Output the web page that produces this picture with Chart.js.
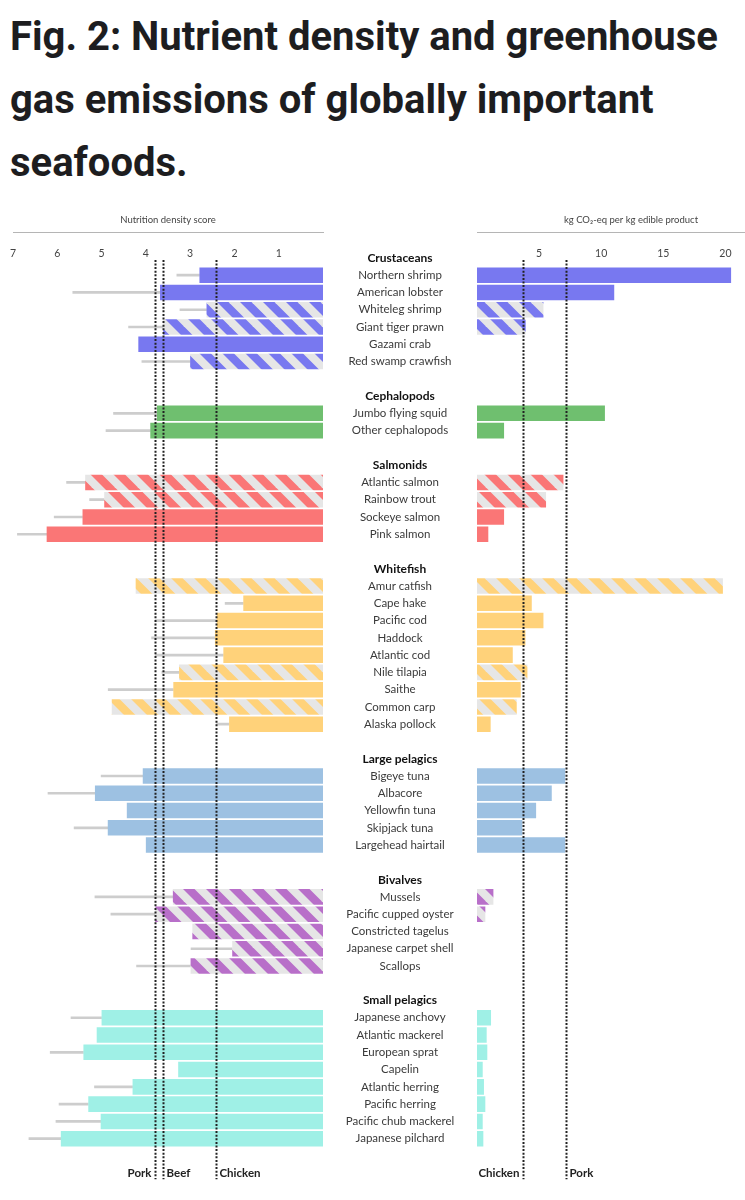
<!DOCTYPE html>
<html>
<head>
<meta charset="utf-8">
<script src="https://cdn.jsdelivr.net/npm/chart.js@4.4.1/dist/chart.umd.min.js"></script>
<style>
  html, body { margin: 0; padding: 0; background: #fff; }
  body { width: 745px; height: 1200px; overflow: hidden; position: relative; }
  h1 {
    position: absolute; left: 10px; top: 5px; margin: 0; width: 730px;
    font-family: Roboto, "Noto Sans", sans-serif; font-weight: 700;
    font-size: 40px; line-height: 63px; color: #1d1d1f; letter-spacing: 0;
  }
  #leftWrap { position: absolute; left: 0; top: 200px; width: 330px; height: 1000px; }
  #rightWrap { position: absolute; left: 325px; top: 200px; width: 460px; height: 1000px; }
</style>
</head>
<body>
<h1>Fig. 2: Nutrient density and greenhouse gas emissions of globally important seafoods.</h1>
<div id="leftWrap"><canvas id="nutrientChart"></canvas></div>
<div id="rightWrap"><canvas id="ghgChart"></canvas></div>
<script>
// ----------------- DATA -----------------
const groupNames = ["Crustaceans", "Cephalopods", "Salmonids", "Whitefish", "Large pelagics", "Bivalves", "Small pelagics"];
const groupSizes = [6, 2, 4, 9, 5, 5, 8];
const groupColors = ["#7878f0", "#6fbf6f", "#fa7676", "#ffd27a", "#9dc1e2", "#b86fc9", "#9ff0e6"];

const speciesNames = [
    "Northern shrimp", "American lobster", "Whiteleg shrimp", "Giant tiger prawn", "Gazami crab", "Red swamp crawfish",
    "Jumbo flying squid", "Other cephalopods",
    "Atlantic salmon", "Rainbow trout", "Sockeye salmon", "Pink salmon",
    "Amur catfish", "Cape hake", "Pacific cod", "Haddock", "Atlantic cod", "Nile tilapia", "Saithe", "Common carp", "Alaska pollock",
    "Bigeye tuna", "Albacore", "Yellowfin tuna", "Skipjack tuna", "Largehead hairtail",
    "Mussels", "Pacific cupped oyster", "Constricted tagelus", "Japanese carpet shell", "Scallops",
    "Japanese anchovy", "Atlantic mackerel", "European sprat", "Capelin", "Atlantic herring", "Pacific herring", "Pacific chub mackerel", "Japanese pilchard"
];

// 1 = farmed (hatched bars)
const farmed = [
    0, 0, 1, 1, 0, 1,
    0, 0,
    1, 1, 0, 0,
    1, 0, 0, 0, 0, 1, 0, 1, 0,
    0, 0, 0, 0, 0,
    1, 1, 1, 1, 1,
    0, 0, 0, 0, 0, 0, 0, 0
];

const nutrientScore = [
    2.79, 3.68, 2.63, 3.61, 4.17, 3.0,
    3.75, 3.9,
    5.37, 4.94, 5.43, 6.24,
    4.23, 1.8, 2.4, 2.44, 2.25, 3.25, 3.38, 4.77, 2.12,
    4.07, 5.15, 4.43, 4.86, 4.0,
    3.39, 3.79, 2.95, 2.05, 2.99,
    5.0, 5.11, 5.41, 3.27, 4.3, 5.3, 5.02, 5.92
];

const nutrientUpper = [
    3.3, 5.65, 3.23, 4.39, null, 4.09,
    4.73, 4.9,
    5.79, 5.27, 6.07, 6.9,
    null, 2.21, 3.79, 3.87, 3.79, 3.64, 4.85, null, 2.4,
    5.01, 6.21, null, 5.62, null,
    5.15, 4.79, null, 2.98, 4.21,
    5.69, null, 6.16, null, 5.16, 5.96, 6.03, 6.64
];

// kg CO2-eq per kg edible product
const ghgEmission = [
    20.46, 11.05, 5.35, 3.92, null, null,
    10.3, 2.18,
    6.96, 5.56, 2.18, 0.91,
    19.8, 4.41, 5.35, 3.9, 2.88, 4.06, 3.52, 3.2, 1.1,
    7.1, 6.02, 4.76, 3.65, 7.1,
    1.32, 0.67, null, null, null,
    1.13, 0.78, 0.83, 0.46, 0.56, 0.67, 0.46, 0.51
];

const nutrientTicks = [7, 6, 5, 4, 3, 2, 1];
const ghgTicks = [5, 10, 15, 20];

const nutrientRefNames = ["Pork", "Beef", "Chicken"];
const nutrientRefValues = [3.79, 3.61, 2.42];
const ghgRefNames = ["Chicken", "Pork"];
const ghgRefValues = [3.7, 7.2];

// ----------------- ROWS -----------------
const rowLabels = [""];
const rowSpecies = [null];
const rowHeader = [false];
const speciesGroup = [];
let k = 0;
groupNames.forEach((g, gi) => {
    rowLabels.push(g); rowSpecies.push(null); rowHeader.push(true);
    for (let j = 0; j < groupSizes[gi]; j++, k++) {
        rowLabels.push(speciesNames[k]); rowSpecies.push(k); rowHeader.push(false);
        speciesGroup.push(gi);
    }
    if (gi < groupNames.length - 1) {
        rowLabels.push(""); rowSpecies.push(null); rowHeader.push(false);
    }
});

function makeHatch(color) {
    const size = 23, w = 11.5;
    const c = document.createElement("canvas");
    c.width = size; c.height = size;
    const g = c.getContext("2d");
    g.fillStyle = "#e6e6e6";
    g.fillRect(0, 0, size, size);
    g.fillStyle = color;
    [-size, 0, size].forEach(o => {
        g.beginPath();
        g.moveTo(o, 0);
        g.lineTo(o + w, 0);
        g.lineTo(o + w + size, size);
        g.lineTo(o + size, size);
        g.closePath();
        g.fill();
    });
    return g.createPattern(c, "repeat");
}
const hatches = groupColors.map(makeHatch);

const rowFills = rowSpecies.map(s => {
    if (s === null) return "rgba(0,0,0,0)";
    const gi = speciesGroup[s];
    return farmed[s] ? hatches[gi] : groupColors[gi];
});
const rowNutrient = rowSpecies.map(s => s === null ? null : nutrientScore[s]);
const rowWhisker = rowSpecies.map(s => (s === null || nutrientUpper[s] === null) ? null : [nutrientScore[s], nutrientUpper[s]]);
const rowGhg = rowSpecies.map(s => s === null ? null : ghgEmission[s]);

// ----------------- PLUGIN: reference lines -----------------
const refLines = {
    id: "refLines",
    afterDatasetsDraw(chart, args, opts) {
        const { ctx, chartArea, scales: { x, y } } = chart;
        const top = y.getPixelForValue(1) + 2;
        const bottom = chartArea.bottom + 32;
        ctx.save();
        ctx.strokeStyle = "#222";
        ctx.lineWidth = 2;
        ctx.setLineDash([2, 1.6]);
        ctx.fillStyle = "#222";
        ctx.font = "bold 11.5px Lato, 'Open Sans', sans-serif";
        ctx.textBaseline = "middle";
        opts.values.forEach((v, i) => {
            const px = Math.round(x.getPixelForValue(v)) + 0.5;
            ctx.beginPath();
            ctx.moveTo(px, top);
            ctx.lineTo(px, bottom);
            ctx.stroke();
            if (opts.sides[i] === "left") {
                ctx.textAlign = "right";
                ctx.fillText(opts.names[i], px - 4, chartArea.bottom + 26);
            } else {
                ctx.textAlign = "left";
                ctx.fillText(opts.names[i], px + 3, chartArea.bottom + 26);
            }
        });
        ctx.restore();
    }
};

// ----------------- CHART SETUP -----------------
const FONT = "Lato, 'Open Sans', sans-serif";
const CHART_TOP = 32;      // axis line, canvas coords
const AXIS_H = 18;
const PAD_BOTTOM = 1000 - (CHART_TOP + 53 * 17.27);

const axisTitleFont = { family: FONT, size: 9.5 };
const tickFont = { family: FONT, size: 10.5 };

// top axis: fixed height, no extra side padding for the labels
function fitTopAxis(s) {
    s.height = AXIS_H;
    s.paddingLeft = 0;
    s.paddingRight = 0;
}

new Chart(document.getElementById("nutrientChart"), {
    type: "bar",
    data: {
        labels: rowLabels,
        datasets: [
            { data: rowNutrient, backgroundColor: rowFills, barPercentage: 0.9, categoryPercentage: 1, grouped: false, order: 1 },
            { data: rowWhisker, backgroundColor: "#cdcdcd", barThickness: 2, grouped: false, order: 2 }
        ]
    },
    options: {
        indexAxis: "y",
        responsive: true,
        maintainAspectRatio: false,
        animation: false,
        layout: { padding: { left: 13, right: 7, top: CHART_TOP - AXIS_H, bottom: PAD_BOTTOM } },
        plugins: {
            legend: { display: false },
            tooltip: { enabled: false },
            refLines: { values: nutrientRefValues, names: nutrientRefNames, sides: ["left", "right", "right"] }
        },
        scales: {
            x: {
                position: "top",
                reverse: true,
                min: 0,
                max: 7,
                grid: { display: false, drawTicks: false },
                border: { display: true, color: "#b5b5b5", width: 1 },
                title: { display: true, text: "Nutrition density score", color: "#444", font: axisTitleFont, padding: 0 },
                ticks: {
                    stepSize: 1,
                    mirror: true,
                    padding: 15,
                    color: "#444",
                    font: tickFont,
                    callback: v => nutrientTicks.includes(v) ? String(v) : ""
                },
                afterFit: fitTopAxis
            },
            y: { display: false }
        }
    },
    plugins: [refLines]
});

// y labels centred at canvas x = 75 in the right chart
const Y_AXIS_W = 152;
const measure = document.createElement("canvas").getContext("2d");
let widest = 0;
rowLabels.forEach((l, i) => {
    measure.font = (rowHeader[i] ? "bold 12px " : "11.5px ") + FONT;
    widest = Math.max(widest, measure.measureText(l).width);
});
const yPad = Y_AXIS_W - 75 - widest / 2;

new Chart(document.getElementById("ghgChart"), {
    type: "bar",
    data: {
        labels: rowLabels,
        datasets: [
            { data: rowGhg, backgroundColor: rowFills, barPercentage: 0.9, categoryPercentage: 1, grouped: false }
        ]
    },
    options: {
        indexAxis: "y",
        responsive: true,
        maintainAspectRatio: false,
        animation: false,
        layout: { padding: { left: 0, right: 0, top: CHART_TOP - AXIS_H, bottom: PAD_BOTTOM } },
        plugins: {
            legend: { display: false },
            tooltip: { enabled: false },
            refLines: { values: ghgRefValues, names: ghgRefNames, sides: ["left", "right"] }
        },
        scales: {
            x: {
                position: "top",
                min: 0,
                max: 24.8,
                grid: { display: false, drawTicks: false },
                border: { display: true, color: "#b5b5b5", width: 1 },
                title: { display: true, text: "kg CO₂-eq per kg edible product", color: "#444", font: axisTitleFont, padding: 0 },
                ticks: {
                    stepSize: 5,
                    mirror: true,
                    padding: 15,
                    color: "#444",
                    font: tickFont,
                    callback: v => ghgTicks.includes(v) ? String(v) : ""
                },
                afterFit: fitTopAxis
            },
            y: {
                grid: { display: false, drawTicks: false },
                border: { display: false },
                ticks: {
                    autoSkip: false,
                    crossAlign: "center",
                    padding: yPad,
                    color: ctx => rowHeader[ctx.index] ? "#111" : "#3a3a3a",
                    font: ctx => rowHeader[ctx.index]
                        ? { family: FONT, size: 12, weight: "bold" }
                        : { family: FONT, size: 11.5 }
                },
                afterFit: s => { s.width = Y_AXIS_W; }
            }
        }
    },
    plugins: [refLines]
});
</script>
</body>
</html>
